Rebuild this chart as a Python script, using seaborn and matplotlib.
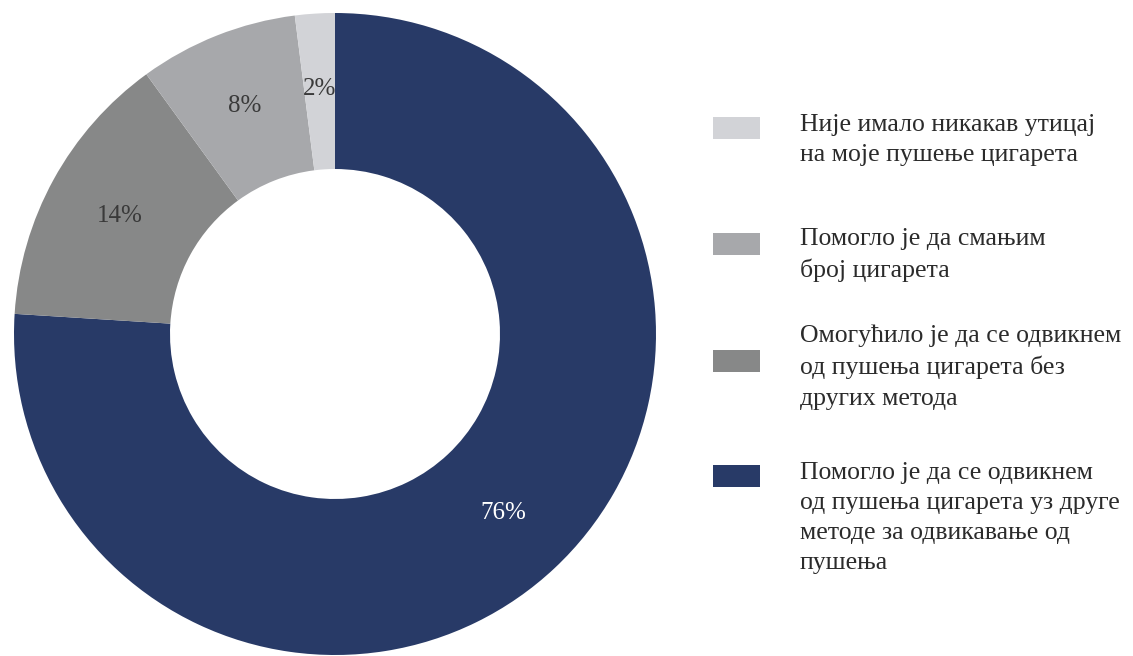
import matplotlib
matplotlib.use("Agg")
import matplotlib.pyplot as plt
from matplotlib.patches import Rectangle
import seaborn as sns

categories = [
    "Помогло је да се одвикнем\nод пушења цигарета уз друге\nметоде за одвикавање од\nпушења",
    "Омогућило је да се одвикнем\nод пушења цигарета без\nдругих метода",
    "Помогло је да смањим\nброј цигарета",
    "Није имало никакав утицај\nна моје пушење цигарета",
]
values = [76, 14, 8, 2]
labels = ["76%", "14%", "8%", "2%"]
colors = ["#283a67", "#878888", "#a7a8ab", "#d2d3d7"]
label_colors = ["white", "#3a3a3a", "#3a3a3a", "#3a3a3a"]

sns.set_theme(style="white")
plt.rcParams["font.family"] = ["Liberation Serif", "DejaVu Serif"]

W, H = 1133, 656
fig = plt.figure(figsize=(W / 100, H / 100), dpi=100)
fig.patch.set_facecolor("white")

cx, cy, R = 335, 334, 321
ax = fig.add_axes([(cx - R) / W, (H - cy - R) / H, 2 * R / W, 2 * R / H])
palette = sns.color_palette(colors)
wedges, texts = ax.pie(values, colors=palette, startangle=90, counterclock=False,
                       radius=1.0, wedgeprops=dict(width=0.486, linewidth=0),
                       labels=labels, labeldistance=0.765,
                       textprops=dict(fontsize=18, ha="center", va="center"))
for t, c in zip(texts, label_colors):
    t.set_color(c)
    t.set_ha("center")
ax.set_xlim(-1, 1)
ax.set_ylim(-1, 1)
ax.set_aspect("equal")
ax.axis("off")

# legend (top to bottom in reverse order)
patch_y = [128, 244, 361, 476]
text_y = [140, 255, 367, 518]
for i, idx in enumerate([3, 2, 1, 0]):
    fig.add_artist(Rectangle((713 / W, (H - patch_y[i] - 11) / H), 47 / W, 22 / H,
                             transform=fig.transFigure, color=colors[idx], lw=0))
    fig.text(800 / W, (H - text_y[i]) / H, categories[idx], ha="left", va="center",
             fontsize=18.5, color="#2b2b2b", linespacing=1.48)

fig.savefig("out.png", dpi=100, facecolor="white")
